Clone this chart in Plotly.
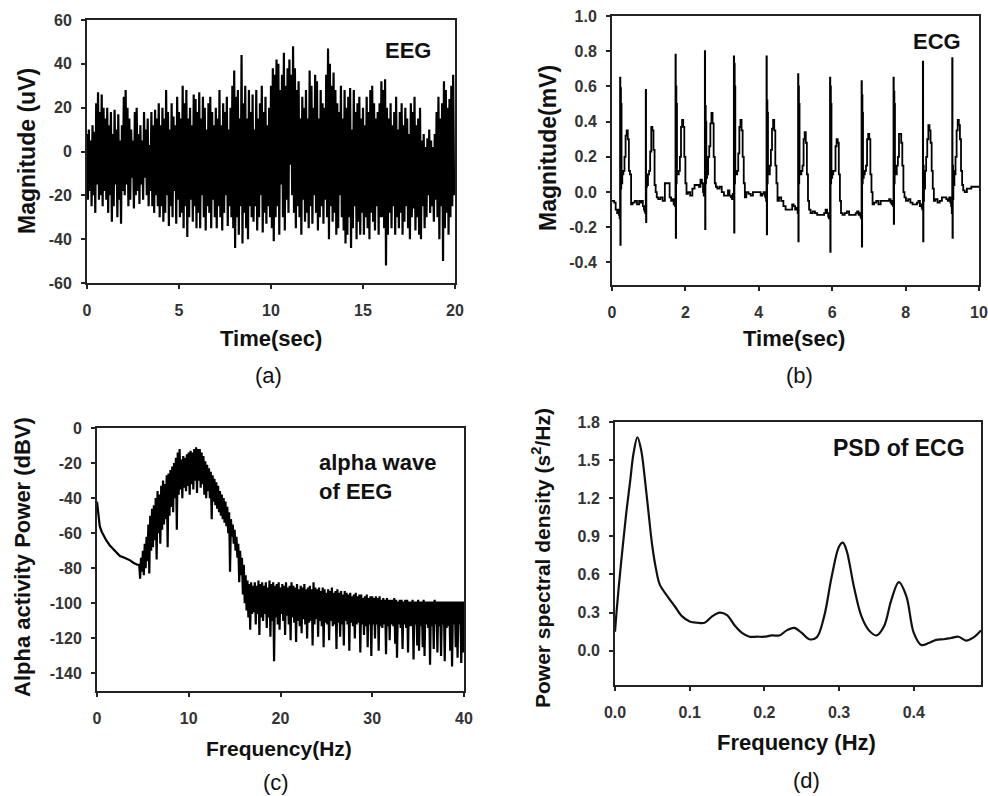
import numpy as np
import plotly.graph_objects as go

# ---------------- (a) EEG, 20 s : alternating local maxima / minima (every 0.05 s)
eeg_peaks = [
    8, 10, 5, 12, 9, 22, 27, 18, 26, 20,
    15, 20, 12, 18, 8, 19, 10, 17, 5, 12,
    25, 28, 20, 15, 10, 5, 18, 20, 8, 12,
    5, 18, 10, 15, 3, 18, 12, 19, 15, 22,
    12, 20, 15, 28, 18, 10, 22, 16, 12, 25,
    18, 15, 30, 22, 28, 15, 20, 12, 26, 24,
    18, 27, 15, 25, 20, 10, 22, 25, 18, 12,
    20, 15, 28, 12, 22, 18, 25, 10, 20, 30,
    37, 25, 28, 15, 44, 22, 30, 15, 28, 18,
    26, 10, 28, 15, 22, 30, 18, 25, 12, 20,
    30, 38, 35, 42, 40, 28, 35, 45, 30, 38,
    42, 35, 48, 38, 28, 32, 15, 25, 20, 28,
    15, 37, 30, 20, 35, 32, 15, 28, 22, 20,
    35, 47, 40, 30, 36, 28, 22, 18, 30, 15,
    28, 20, 25, 29, 10, 28, 18, 22, 25, 15,
    20, 12, 25, 18, 28, 30, 22, 15, 18, 22,
    32, 28, 33, 20, 15, 22, 12, 18, 25, 10,
    18, 22, 12, 20, 15, 8, 22, 18, 25, 12,
    15, 20, 5, 8, 2, 6, 10, 5, 2, 8,
    18, 25, 15, 22, 32, 28, 20, 24, 30, 35,
]
eeg_troughs = [
    -22, -18, -25, -20, -28, -15, -22, -20, -25, -18,
    -22, -28, -20, -32, -25, -15, -30, -22, -33, -18,
    -20, -15, -25, -22, -12, -26, -20, -18, -24, -15,
    -22, -12, -20, -25, -18, -25, -28, -20, -25, -30,
    -25, -32, -28, -20, -34, -25, -30, -18, -33, -22,
    -30, -28, -35, -25, -39, -30, -22, -32, -25, -35,
    -28, -35, -20, -30, -36, -25, -28, -35, -22, -30,
    -35, -25, -30, -36, -28, -20, -34, -25, -30, -35,
    -44, -30, -38, -25, -42, -28, -35, -40, -25, -30,
    -32, -25, -36, -30, -20, -37, -28, -33, -25, -30,
    -35, -41, -30, -25, -38, -15, -30, -36, -22, -28,
    -6, -20, -28, -35, -25, -30, -38, -22, -32, -28,
    -35, -25, -33, -20, -28, -36, -30, -25, -33, -22,
    -30, -40, -25, -32, -28, -38, -35, -20, -30, -36,
    -42, -38, -30, -44, -35, -25, -40, -32, -38, -28,
    -38, -30, -35, -40, -28, -32, -36, -25, -38, -30,
    -30, -35, -52, -38, -28, -35, -25, -38, -30, -35,
    -28, -38, -32, -25, -35, -40, -30, -26, -36, -30,
    -38, -40, -25, -35, -30, -20, -28, -25, -32, -22,
    -30, -40, -25, -50, -35, -28, -38, -30, -25, -20,
]
eeg_sample_step = 0.05
eeg_x_ticks = [0, 5, 10, 15, 20]
eeg_y_ticks = [-60, -40, -20, 0, 20, 40, 60]

# ---------------- (b) ECG, 10 s
ecg_r_times = [0.22, 0.92, 1.73, 2.53, 3.32, 4.21, 5.07, 5.94, 6.80, 7.67, 8.47, 9.27]
ecg_offsets = [-0.16, -0.12, -0.08, -0.05, -0.03, -0.012, 0.0, 0.008, 0.016, 0.024,
               0.032, 0.04, 0.06, 0.09, 0.12, 0.15, 0.18, 0.21, 0.24, 0.27,
               0.30, 0.34, 0.40, 0.46, 0.52]
ecg_beats = [
    [-0.06, -0.1, -0.12, -0.1, -0.13, -0.15, 0.65, -0.30, 0.59, 0.02, 0.5, 0.05, 0.1, 0.12, 0.2, 0.32, 0.35, 0.3, 0.12, 0.1, -0.07, -0.06, -0.05, -0.07, -0.05],
    [-0.06, -0.05, -0.08, -0.1, -0.11, -0.12, 0.58, -0.17, 0.1, 0.03, 0.05, 0.04, 0.1, 0.12, 0.23, 0.37, 0.35, 0.24, 0.04, 0.0, -0.03, -0.04, -0.03, -0.05, 0.05],
    [-0.03, -0.05, -0.04, -0.07, -0.05, -0.08, 0.78, -0.26, 0.6, 0.05, 0.5, 0.1, 0.1, 0.12, 0.2, 0.37, 0.41, 0.37, 0.2, 0.05, -0.01, 0.0, -0.02, 0.02, 0.04],
    [0.03, 0.07, 0.05, 0.0, -0.02, -0.02, 0.80, -0.21, 0.49, 0.05, 0.4, 0.08, 0.1, 0.2, 0.26, 0.39, 0.45, 0.39, 0.2, 0.05, 0.03, 0.02, 0.03, 0.0, -0.02],
    [0.01, -0.02, -0.03, -0.04, -0.01, -0.04, 0.77, -0.23, 0.73, 0.05, 0.6, 0.1, 0.1, 0.12, 0.22, 0.37, 0.41, 0.35, 0.2, 0.05, -0.03, 0.0, -0.01, -0.02, 0.0],
    [-0.02, -0.01, 0.0, -0.02, -0.03, -0.05, 0.77, -0.24, 0.52, 0.05, 0.45, 0.1, 0.1, 0.15, 0.24, 0.36, 0.41, 0.35, 0.15, 0.05, -0.05, -0.03, -0.05, -0.08, -0.1],
    [-0.07, -0.08, -0.1, -0.1, -0.09, -0.12, 0.67, -0.28, 0.6, 0.05, 0.5, 0.1, 0.1, 0.12, 0.15, 0.3, 0.34, 0.28, 0.1, -0.05, -0.1, -0.12, -0.11, -0.12, -0.13],
    [-0.12, -0.1, -0.12, -0.14, -0.15, -0.14, 0.65, -0.34, 0.6, 0.05, 0.5, 0.08, 0.1, 0.12, 0.12, 0.26, 0.3, 0.28, 0.1, -0.05, -0.12, -0.13, -0.12, -0.11, -0.13],
    [-0.12, -0.11, -0.13, -0.12, -0.14, -0.15, 0.63, -0.31, 0.55, 0.05, 0.45, 0.08, 0.1, 0.12, 0.15, 0.3, 0.33, 0.3, 0.1, 0.0, -0.07, -0.06, -0.05, -0.07, -0.05],
    [-0.05, -0.04, -0.06, -0.07, -0.05, -0.08, 0.65, -0.18, 0.57, 0.05, 0.5, 0.1, 0.1, 0.15, 0.2, 0.33, 0.33, 0.28, 0.15, 0.0, -0.03, -0.05, -0.04, -0.06, -0.07],
    [-0.06, -0.05, -0.08, -0.07, -0.09, -0.1, 0.74, -0.28, 0.15, -0.05, 0.12, 0.02, 0.12, 0.2, 0.3, 0.38, 0.35, 0.28, 0.12, 0.02, -0.05, -0.04, -0.06, -0.05, -0.03],
    [-0.04, -0.05, -0.03, -0.06, -0.08, -0.12, 0.76, -0.26, 0.15, -0.04, 0.12, 0.04, 0.1, 0.2, 0.35, 0.41, 0.38, 0.3, 0.12, 0.04, 0.01, 0.0, 0.02, 0.02, 0.03],
]
ecg_first = (0.0, -0.05)
ecg_last = (10.0, 0.03)
ecg_x_ticks = [0, 2, 4, 6, 8, 10]
ecg_y_ticks = [-0.4, -0.2, 0.0, 0.2, 0.4, 0.6, 0.8, 1.0]

# ---------------- (c) alpha wave spectrum of EEG
alpha_smooth_f = [0.0, 0.1, 0.2, 0.3, 0.5, 0.7, 1.0, 1.4, 2.0, 2.5, 3.0, 3.6, 4.0, 4.4]
alpha_smooth_db = [-42, -48, -53, -56, -59, -61, -64, -67, -70, -73, -74, -75.5, -77, -78]
alpha_dense_start = 4.6
alpha_dense_step = 0.2
alpha_upper = [
    -78, -74, -70,
    -66, -62, -55, -50, -46,
    -44, -40, -36, -38, -33,
    -30, -32, -27, -26, -24,
    -22, -20, -17, -14, -12,
    -18, -16, -17, -15, -14,
    -13, -14, -12, -11, -12,
    -12, -14, -16, -19, -21,
    -23, -25, -27, -29, -31,
    -33, -36, -38, -40, -42,
    -45, -48, -52, -55, -58,
    -62, -66, -70, -74, -78,
    -84, -87, -89, -88, -90,
    -88, -90, -87, -89, -88,
    -90, -88, -91, -87, -89,
    -88, -90, -89, -88, -91,
    -89, -90, -88, -91, -90,
    -88, -90, -91, -89, -92,
    -90, -91, -89, -92, -91,
    -90, -92, -88, -91, -92,
    -91, -93, -91, -92, -94,
    -92, -93, -91, -94, -93,
    -92, -94, -93, -95, -93,
    -94, -95, -94, -96, -95,
    -94, -96, -95, -95, -97,
    -96, -95, -97, -96, -96,
    -97, -96, -97, -96, -98,
    -97, -98, -97, -98, -98,
    -98, -97, -98, -99, -98,
    -98, -99, -98, -98, -99,
    -99, -98, -99, -99, -98,
    -99, -99, -98, -99, -99,
    -99, -99, -99, -98, -99,
    -99, -99, -99, -99, -99,
    -99, -99, -99, -99, -99,
    -99, -99, -99, -99, -99,
]
alpha_lower = [
    -86, -82, -84,
    -80, -76, -83, -70, -68,
    -64, -75, -60, -66, -58,
    -55, -52, -68, -50, -45,
    -48, -40, -58, -38, -35,
    -40, -34, -36, -33, -38,
    -32, -35, -30, -37, -30,
    -34, -32, -38, -40, -36,
    -40, -52, -42, -44, -46,
    -48, -50, -52, -54, -56,
    -60, -82, -62, -66, -70,
    -74, -88, -84, -95, -100,
    -104, -108, -115, -106, -105,
    -112, -106, -118, -108, -110,
    -106, -114, -108, -119, -110,
    -133, -108, -112, -115, -106,
    -110, -118, -107, -112, -121,
    -108, -111, -122, -110, -113,
    -117, -109, -112, -120, -111,
    -110, -124, -112, -109, -119,
    -110, -113, -125, -111, -112,
    -121, -110, -113, -112, -126,
    -111, -119, -112, -124, -110,
    -112, -127, -111, -113, -120,
    -112, -111, -128, -112, -118,
    -113, -125, -112, -130, -112,
    -120, -112, -127, -113, -114,
    -112, -129, -113, -121, -112,
    -113, -123, -131, -112, -114,
    -126, -112, -114, -128, -113,
    -113, -132, -112, -124, -127,
    -113, -125, -130, -112, -114,
    -135, -113, -126, -112, -128,
    -113, -130, -112, -133, -114,
    -113, -127, -136, -112, -125,
    -131, -112, -134, -128, -114,
]
alpha_x_ticks = [0, 10, 20, 30, 40]
alpha_y_ticks = [-140, -120, -100, -80, -60, -40, -20, 0]

# ---------------- (d) PSD of ECG
psd_f = [0.0, 0.002, 0.005, 0.01, 0.015, 0.02, 0.025, 0.03, 0.035, 0.04, 0.045, 0.05,
         0.055, 0.06, 0.07, 0.08, 0.09, 0.10, 0.11, 0.12, 0.13, 0.14, 0.15, 0.16,
         0.17, 0.18, 0.19, 0.20, 0.21, 0.22, 0.23, 0.24, 0.25, 0.26, 0.27, 0.28,
         0.29, 0.30, 0.305, 0.31, 0.32, 0.33, 0.34, 0.35, 0.36, 0.37, 0.38, 0.39,
         0.40, 0.41, 0.42, 0.43, 0.44, 0.45, 0.46, 0.47, 0.48, 0.49]
psd_v = [0.15, 0.30, 0.50, 0.80, 1.08, 1.32, 1.56, 1.68, 1.58, 1.35, 1.08, 0.82,
         0.64, 0.52, 0.43, 0.35, 0.27, 0.23, 0.22, 0.22, 0.27, 0.30, 0.28, 0.20,
         0.14, 0.11, 0.11, 0.11, 0.12, 0.12, 0.16, 0.18, 0.14, 0.09, 0.105, 0.27,
         0.58, 0.82, 0.85, 0.79, 0.50, 0.27, 0.16, 0.12, 0.19, 0.40, 0.54, 0.43,
         0.14, 0.045, 0.06, 0.085, 0.09, 0.10, 0.11, 0.08, 0.105, 0.16]
psd_x_ticks = [0.0, 0.1, 0.2, 0.3, 0.4]
psd_y_ticks = [0.0, 0.3, 0.6, 0.9, 1.2, 1.5, 1.8]

# ---------------- build series
n_eeg = min(len(eeg_peaks), len(eeg_troughs))
eeg_v = np.empty(2 * n_eeg)
eeg_v[0::2] = eeg_peaks[:n_eeg]
eeg_v[1::2] = eeg_troughs[:n_eeg]
eeg_t = np.arange(2 * n_eeg) * eeg_sample_step

ecg_t = [ecg_first[0]]
ecg_v = [ecg_first[1]]
for rt, vals in zip(ecg_r_times, ecg_beats):
    for off, val in zip(ecg_offsets, vals):
        ecg_t.append(round(rt + off, 4))
        ecg_v.append(val)
ecg_t.append(ecg_last[0])
ecg_v.append(ecg_last[1])

n_al = min(len(alpha_upper), len(alpha_lower))
dense_f = np.empty(2 * n_al)
dense_db = np.empty(2 * n_al)
dense_f[0::2] = alpha_dense_start + alpha_dense_step * np.arange(n_al)
dense_f[1::2] = alpha_dense_start + alpha_dense_step * np.arange(n_al) + alpha_dense_step / 2
dense_db[0::2] = alpha_upper[:n_al]
dense_db[1::2] = alpha_lower[:n_al]
alpha_f = np.concatenate([alpha_smooth_f, dense_f])
alpha_db = np.concatenate([alpha_smooth_db, dense_db])

# ---------------- figure
W, H = 988, 796
FONT = "Arial, Liberation Sans, sans-serif"


def dx(px):
    return px / W


def dy(py):
    return 1 - py / H


fig = go.Figure()
fig.add_trace(go.Scatter(x=eeg_t, y=eeg_v, mode="lines", line=dict(color="black", width=2.2),
                         xaxis="x", yaxis="y", showlegend=False))
fig.add_trace(go.Scatter(x=ecg_t, y=ecg_v, mode="lines", line=dict(color="black", width=1.8, shape="hv"),
                         xaxis="x2", yaxis="y2", showlegend=False))
fig.add_trace(go.Scatter(x=alpha_f, y=alpha_db, mode="lines", line=dict(color="black", width=2.2),
                         xaxis="x3", yaxis="y3", showlegend=False))
fig.add_trace(go.Scatter(x=psd_f, y=psd_v, mode="lines", line=dict(color="#111", width=2.2, shape="spline"),
                         xaxis="x4", yaxis="y4", showlegend=False))

tickfont = dict(family=FONT, size=16, color="#333", weight="bold")


def ax(domain, rng, tickvals, fmt, anchor, standoff):
    return dict(domain=domain, range=rng, showline=True, mirror=True, linecolor="#222",
                linewidth=2, ticks="outside", ticklen=4, tickwidth=1.5, tickcolor="#222",
                showgrid=False, zeroline=False, tickfont=tickfont, anchor=anchor,
                ticklabelstandoff=standoff, automargin=False, tickmode="array",
                tickvals=tickvals, ticktext=[format(v, fmt) for v in tickvals])


fig.update_layout(
    width=W, height=H, margin=dict(l=0, r=0, t=0, b=0, autoexpand=False),
    paper_bgcolor="white", plot_bgcolor="white",
    xaxis=ax([dx(87), dx(455)], [0, 20], eeg_x_ticks, "d", "y", 8),
    yaxis=ax([dy(283), dy(20)], [-60, 60], eeg_y_ticks, "d", "x", 6),
    xaxis2=ax([dx(612), dx(979)], [0, 10], ecg_x_ticks, "d", "y2", 8),
    yaxis2=ax([dy(285), dy(16)], [-0.528, 1.0], ecg_y_ticks, ".1f", "x2", 6),
    xaxis3=ax([dx(97), dx(464)], [0, 40], alpha_x_ticks, "d", "y3", 8),
    yaxis3=ax([dy(691), dy(428)], [-150, 0], alpha_y_ticks, "d", "x3", 6),
    xaxis4=ax([dx(615), dx(981)], [0, 0.49], psd_x_ticks, ".1f", "y4", 8),
    yaxis4=ax([dy(685), dy(422)], [-0.27, 1.8], psd_y_ticks, ".1f", "x4", 6),
)

anns = []


def text(x, y, s, size, bold=True, angle=0, xanchor="center", align="center"):
    anns.append(dict(x=dx(x), y=dy(y), xref="paper", yref="paper", text=s, showarrow=False,
                     textangle=angle, xanchor=xanchor, yanchor="middle", align=align,
                     font=dict(family=FONT, size=size, color="#111",
                               weight="bold" if bold else "normal")))


# axis titles
text(271, 338, "Time(sec)", 22)
text(794, 338, "Time(sec)", 22)
text(279, 748, "Frequency(Hz)", 21)
text(796, 742, "Frequency (Hz)", 22)
text(27, 151, "Magnitude (uV)", 23, angle=-90)
text(548, 148, "Magnitude(mV)", 23, angle=-90)
text(22, 557, "Alpha activity Power (dBV)", 22, angle=-90)
text(541, 558, "Power spectral density (s<sup>2</sup>/Hz)", 21, angle=-90)
# panel tags
text(268, 375, "(a)", 22, bold=False)
text(799, 375, "(b)", 22, bold=False)
text(276, 782, "(c)", 22, bold=False)
text(806, 780, "(d)", 22, bold=False)
# in-plot labels
text(408, 51, "EEG", 22)
text(937, 42, "ECG", 22)
text(317, 477, "alpha wave<br>of EEG", 22, xanchor="left", align="left")
text(899, 448, "PSD of ECG", 23)

fig.update_layout(annotations=anns)
fig.write_html(
    "out.html",
    config={"displayModeBar": False},
    post_script="document.body.style.margin='0';document.body.style.padding='0';"
                "document.body.style.overflow='hidden';",
)
